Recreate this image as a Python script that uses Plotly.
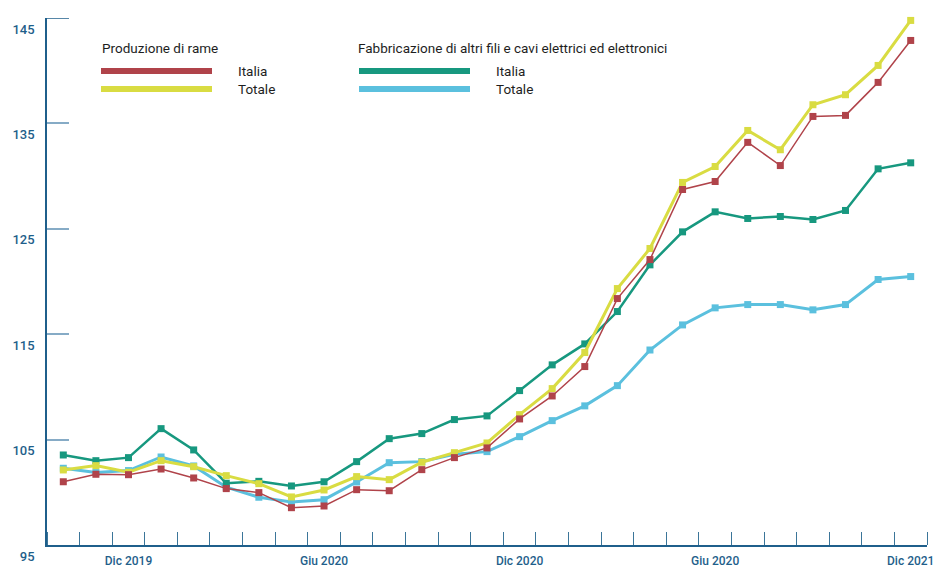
import plotly.graph_objects as go

# ---- data ----
months = ["Ott 2019", "Nov 2019", "Dic 2019", "Gen 2020", "Feb 2020", "Mar 2020", "Apr 2020",
          "Mag 2020", "Giu 2020", "Lug 2020", "Ago 2020", "Set 2020", "Ott 2020", "Nov 2020",
          "Dic 2020", "Gen 2021", "Feb 2021", "Mar 2021", "Apr 2021", "Mag 2021", "Giu 2021",
          "Lug 2021", "Ago 2021", "Set 2021", "Ott 2021", "Nov 2021", "Dic 2021"]
x_idx = list(range(len(months)))

rame_italia = [101.0, 101.71, 101.67, 102.21, 101.36, 100.35, 99.97, 98.54, 98.7, 100.25, 100.15,
               102.15, 103.29, 104.21, 106.96, 109.14, 111.93, 118.38, 122.08, 128.73, 129.49,
               133.2, 131.0, 135.66, 135.76, 138.89, 142.87]
rame_totale = [102.12, 102.53, 101.9, 103.0, 102.43, 101.58, 100.82, 99.56, 100.22, 101.49, 101.2,
               102.85, 103.76, 104.68, 107.37, 109.84, 113.26, 119.33, 123.13, 129.4, 130.91,
               134.33, 132.5, 136.77, 137.72, 140.5, 144.77]
cavi_italia = [103.54, 103.0, 103.29, 106.04, 104.02, 100.86, 101.04, 100.6, 101.0, 102.91, 105.09,
               105.57, 106.9, 107.25, 109.65, 112.09, 114.08, 117.15, 121.58, 124.71, 126.61,
               125.98, 126.17, 125.88, 126.74, 130.69, 131.26]
cavi_totale = [102.28, 101.87, 102.06, 103.35, 102.5, 100.48, 99.53, 99.08, 99.3, 100.98, 102.81,
               102.91, 103.6, 103.86, 105.28, 106.8, 108.2, 110.12, 113.5, 115.88, 117.5,
               117.81, 117.81, 117.31, 117.81, 120.19, 120.47]

x_tick_pos = [2, 8, 14, 20, 26]
x_tick_text = ["Dic 2019", "Giu 2020", "Dic 2020", "Giu 2020", "Dic 2021"]
y_tick_vals = [95, 105, 115, 125, 135, 145]

group1_title = "Produzione di rame"
group2_title = "Fabbricazione di altri fili e cavi elettrici ed elettronici"
item_labels = ["Italia", "Totale"]

# ---- styles ----
RED = "#B0434A"
YELLOW = "#D9DC42"
GREEN = "#17987F"
CYAN = "#5BC0DE"
AXIS = "#1F5F8B"
TICKLIGHT = "#86ABC6"
FONT = "Roboto"

W, H = 936, 569
L, R, T, B = 47, 9, 18, 24
pw, ph = W - L - R, H - T - B

def px(xp):  # window pixel -> paper x
    return (xp - L) / pw

def py(yp):  # window pixel -> paper y
    return (H - B - yp) / ph

fig = go.Figure()
series = [
    (cavi_totale, CYAN, 3),
    (cavi_italia, GREEN, 2.5),
    (rame_totale, YELLOW, 3),
    (rame_italia, RED, 1.5),
]
for vals, col, lw in series:
    fig.add_trace(go.Scatter(
        x=x_idx, y=vals, mode="lines+markers",
        line=dict(color=col, width=lw),
        marker=dict(symbol="square", size=7, color=col),
        showlegend=False, hoverinfo="x+y", cliponaxis=False,
    ))

# custom legend
shapes = []
annotations = []
legend_groups = [
    (group1_title, 100, 101, 212, 236, [RED, YELLOW]),
    (group2_title, 356, 359, 470, 494, [GREEN, CYAN]),
]
for title, tx, lx0, lx1, labx, cols in legend_groups:
    annotations.append(dict(x=px(tx), y=py(48), xref="paper", yref="paper", text=title,
                            showarrow=False, xanchor="left", yanchor="middle",
                            font=dict(family=FONT, size=13.5, color="#1E1E1E")))
    for i, (col, lab) in enumerate(zip(cols, item_labels)):
        yy = 71 + 18 * i
        shapes.append(dict(type="line", xref="paper", yref="paper",
                           x0=px(lx0), x1=px(lx1), y0=py(yy), y1=py(yy),
                           line=dict(color=col, width=6)))
        annotations.append(dict(x=px(labx), y=py(yy), xref="paper", yref="paper", text=lab,
                                showarrow=False, xanchor="left", yanchor="middle",
                                font=dict(family=FONT, size=13.5, color="#1E1E1E")))

# dark cap at top of y axis
shapes.append(dict(type="line", xref="paper", yref="y", x0=0, x1=22 / pw, y0=145, y1=145,
                   line=dict(color=AXIS, width=1.5)))

fig.update_layout(
    width=W, height=H,
    margin=dict(l=L, r=R, t=T, b=B, pad=0, autoexpand=False),
    plot_bgcolor="white", paper_bgcolor="white",
    shapes=shapes, annotations=annotations,
    xaxis=dict(
        range=[-0.5, 26.5], showgrid=False, zeroline=False, automargin=False,
        showline=True, linecolor=AXIS, linewidth=1.5,
        tickmode="array", tickvals=x_tick_pos, ticktext=x_tick_text,
        ticks="", ticklabelstandoff=4, ticklabeloverflow="allow",
        tickfont=dict(family=FONT, size=12, color=AXIS, weight=500),
        minor=dict(tick0=-0.5, dtick=1, ticks="inside", ticklen=13,
                   tickcolor="#3B7599", tickwidth=1, showgrid=False),
    ),
    yaxis=dict(
        range=[95, 145], showgrid=False, zeroline=False, automargin=False,
        showline=True, linecolor=AXIS, linewidth=1.5,
        tickmode="array", tickvals=y_tick_vals,
        ticks="inside", ticklen=22, tickcolor=TICKLIGHT, tickwidth=2,
        ticklabelshift=11, ticklabelstandoff=8,
        tickfont=dict(family=FONT, size=13, color=AXIS, weight=500),
    ),
)

fig.write_html(
    "out.html",
    config={"displayModeBar": False},
    post_script="document.body.style.margin='0';document.body.style.overflow='hidden';",
)
